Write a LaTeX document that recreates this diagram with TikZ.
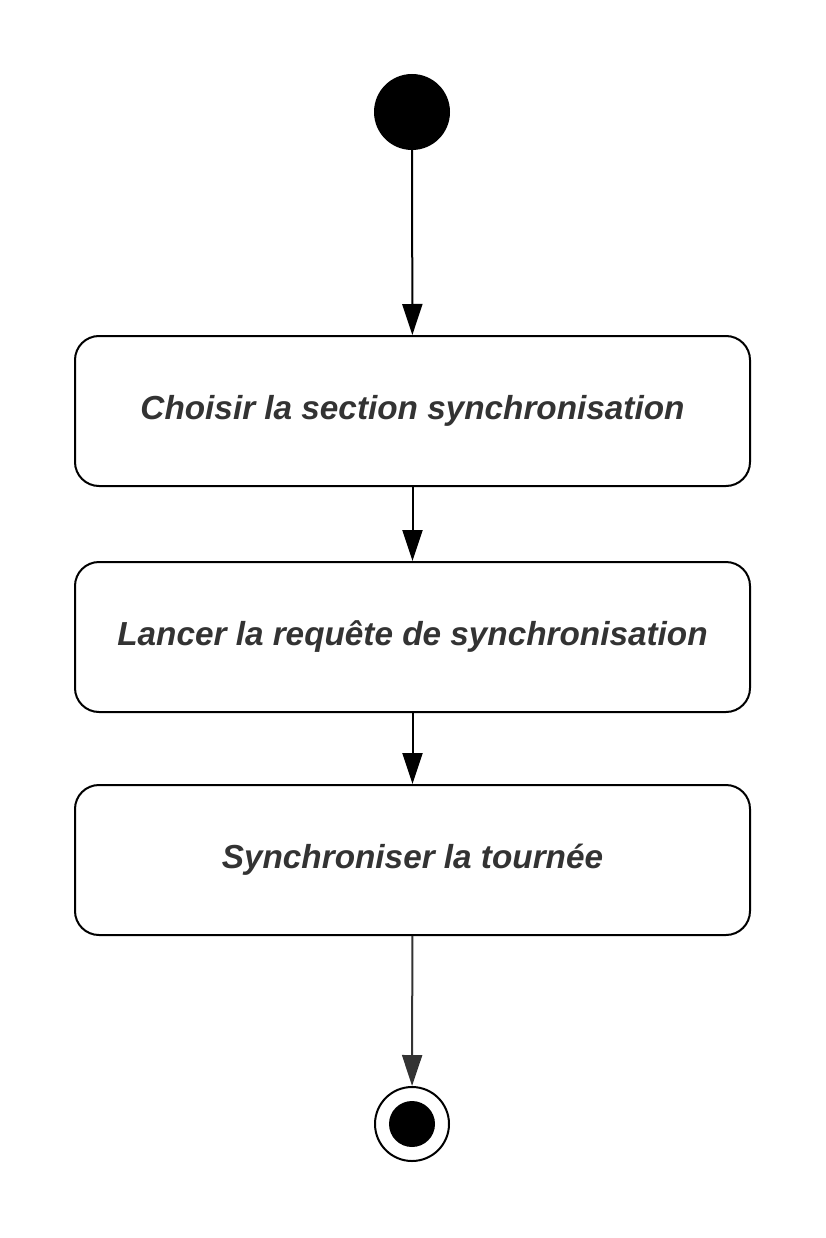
\documentclass[tikz,border=0pt]{standalone}
\usepackage{fontspec}
\setmainfont{Liberation Sans}
\usetikzlibrary{arrows.meta}
\definecolor{txt}{HTML}{333333}
\begin{document}
\begin{tikzpicture}[x=1pt,y=-1pt,
  act/.style={draw=black,line width=2pt,rounded corners=24pt,minimum width=675pt,minimum height=150pt,inner sep=0pt,
    font=\fontsize{33.3}{38}\selectfont\bfseries\itshape,text=txt},
  flow/.style={line width=2pt,-{Triangle[length=31pt,width=20pt]}}]
\useasboundingbox (0,0) rectangle (825,1238);
\node[circle,fill=black,minimum size=76pt,inner sep=0pt] (start) at (412,112) {};
\node[act] (a1) at (412.5,411) {Choisir la section synchronisation};
\node[act] (a2) at (412.5,637) {Lancer la requête de synchronisation};
\node[act] (a3) at (412.5,860) {Synchroniser la tournée};
\node[circle,draw=black,line width=2pt,fill=white,minimum size=74pt,inner sep=0pt] (end) at (412,1124) {};
\node[circle,fill=black,minimum size=46pt,inner sep=0pt] at (end.center) {};
\draw[flow] (start) -- (a1);
\draw[flow] (a1) -- (a2);
\draw[flow] (a2) -- (a3);
\draw[flow,draw=txt,fill=txt] (a3) -- (end);
\end{tikzpicture}
\end{document}
